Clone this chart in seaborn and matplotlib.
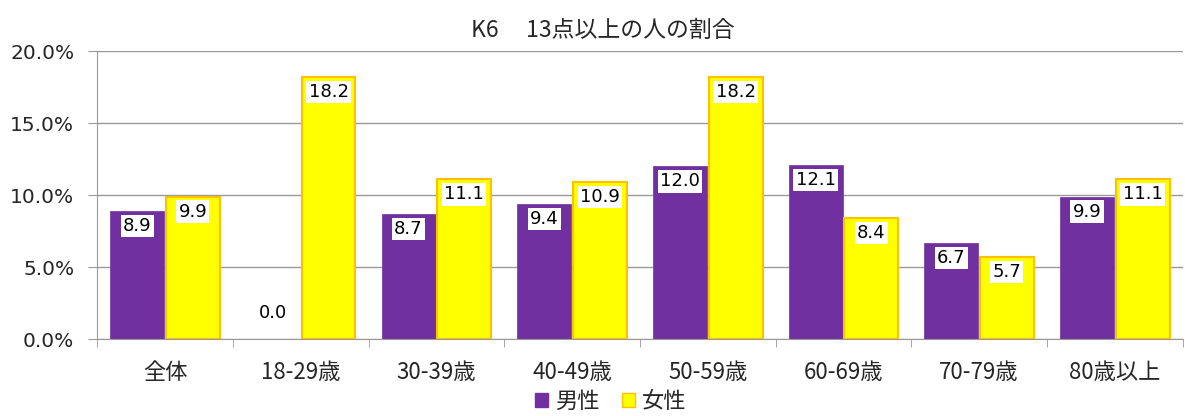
import matplotlib.pyplot as plt
import seaborn as sns
import pandas as pd

categories = ["全体", "18-29歳", "30-39歳", "40-49歳", "50-59歳", "60-69歳", "70-79歳", "80歳以上"]
male = [8.9, 0.0, 8.7, 9.4, 12.0, 12.1, 6.7, 9.9]
female = [9.9, 18.2, 11.1, 10.9, 18.2, 8.4, 5.7, 11.1]
series = ["男性", "女性"]
colors = {"男性": "#7030A0", "女性": "#FFFF00"}
edges = {"男性": "#7030A0", "女性": "#FFC000"}

df = pd.DataFrame({
    "cat": categories * 2,
    "val": male + female,
    "sex": [series[0]] * len(male) + [series[1]] * len(female),
})

sns.set_style("white")
plt.rcParams["font.family"] = ["Noto Sans CJK JP", "DejaVu Sans"]

fig, ax = plt.subplots(figsize=(11.85, 4.16), dpi=100)
fig.subplots_adjust(left=0.082, right=0.998, top=0.877, bottom=0.185)

sns.barplot(data=df, x="cat", y="val", hue="sex", palette=colors, width=0.82,
            gap=0.03, ax=ax, legend=True, saturation=1)

# edge colours per series
n = len(categories)
for i, bar in enumerate(ax.patches[:2 * n]):
    s = series[i // n]
    bar.set_edgecolor(edges[s])
    bar.set_linewidth(1.5 if s == "女性" else 0.5)

# data labels
for i, bar in enumerate(ax.patches[:2 * n]):
    v = bar.get_height()
    x = bar.get_x() + bar.get_width() / 2
    if v == 0:
        ax.text(x, 1.8, f"{v:.1f}", ha="center", va="center", fontsize=13,
                family=["DejaVu Sans"], color="black")
    else:
        ax.text(x, v - 1.05, f"{v:.1f}", ha="center", va="center", fontsize=13,
                family=["DejaVu Sans"], color="black",
                bbox=dict(boxstyle="square,pad=0.12", fc="white", ec="none"))

ax.set_ylim(0, 20)
ax.set_xlim(-0.5, n - 0.5)
ax.set_yticks([0, 5, 10, 15, 20])
ax.set_yticklabels([f"{v:.1f}%" for v in [0, 5, 10, 15, 20]], family=["DejaVu Sans"])
ax.yaxis.grid(True, color="#999999", linewidth=1)
ax.set_axisbelow(True)
ax.set_xlabel("")
ax.set_ylabel("")
ax.tick_params(axis="y", labelsize=14.5, length=6.5, color="#999999", left=True, pad=10)
ax.tick_params(axis="x", labelsize=16, length=0, pad=16)
# category boundary ticks
ax.set_xticks([i - 0.5 for i in range(n + 1)], minor=True)
ax.tick_params(axis="x", which="minor", length=6, color="#999999", bottom=True)

for s in ["top", "right"]:
    ax.spines[s].set_visible(False)
for s in ["left", "bottom"]:
    ax.spines[s].set_color("#999999")

ax.set_title("K6\u3000\u200913点以上の人の割合", fontsize=16.5, pad=10, x=0.466)

handles, labels = ax.get_legend_handles_labels()
for h, s in zip(handles, series):
    h.set_edgecolor(edges[s])
ax.legend(handles, labels, loc="center", bbox_to_anchor=(0.473, -0.217),
          ncol=2, frameon=False, fontsize=16, handlelength=0.6, handleheight=0.6,
          handletextpad=0.3, columnspacing=1.0, borderaxespad=0)

fig.savefig("out.png")
